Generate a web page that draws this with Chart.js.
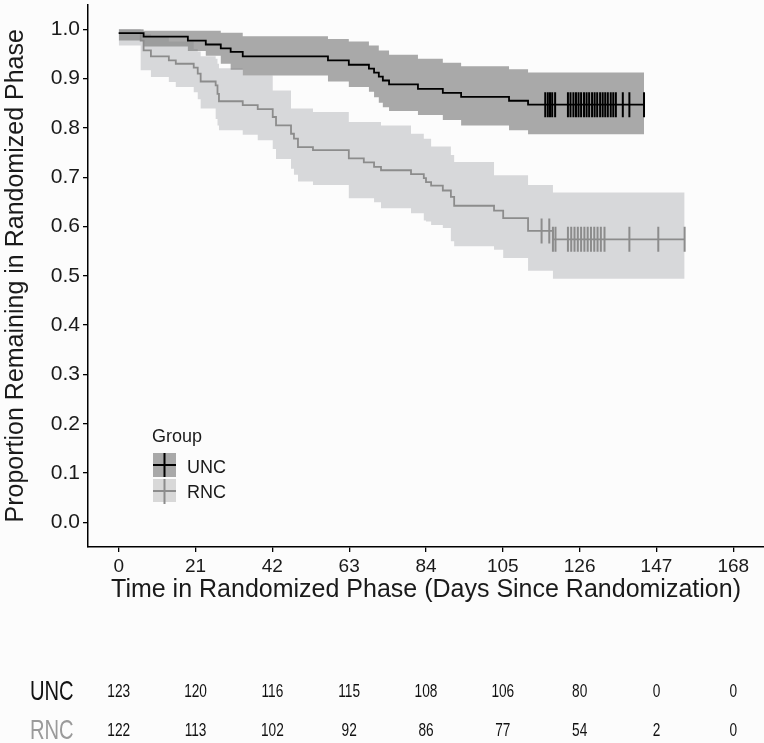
<!DOCTYPE html>
<html>
<head>
<meta charset="utf-8">
<script src="https://cdn.jsdelivr.net/npm/chart.js@4.4.1/dist/chart.umd.min.js"></script>
<style>
  html, body { margin: 0; padding: 0; background: #fcfcfc; }
  #wrap { width: 764px; height: 743px; overflow: hidden; }
</style>
</head>
<body>
<div id="wrap"><canvas id="km" width="764" height="743"></canvas></div>
<script>
// axis ticks
const xTicks = [0, 21, 42, 63, 84, 105, 126, 147, 168];
const yTicks = [0, 0.1, 0.2, 0.3, 0.4, 0.5, 0.6, 0.7, 0.8, 0.9, 1.0];

// UNC group: step times (days), survival, 95% band
const uncTime  = [0, 6.8, 18.9, 23.8, 27.9, 30.6, 33.9, 57.2, 62.9, 68.4, 69.8, 71.1, 72.2, 73.9, 81.8, 88.6, 93.6, 106.7, 111.9, 143.6];
const uncSurv  = [0.992, 0.985, 0.977, 0.969, 0.961, 0.954, 0.945, 0.937, 0.928, 0.920, 0.912, 0.904, 0.896, 0.888, 0.879, 0.871, 0.863, 0.855, 0.847, 0.847];
const uncUpper = [1.0, 0.997, 0.997, 0.997, 0.993, 0.993, 0.986, 0.980, 0.975, 0.967, 0.967, 0.957, 0.957, 0.948, 0.940, 0.932, 0.925, 0.919, 0.912, 0.912];
const uncLower = [0.977, 0.965, 0.956, 0.946, 0.930, 0.918, 0.906, 0.894, 0.883, 0.873, 0.862, 0.851, 0.842, 0.834, 0.826, 0.816, 0.805, 0.795, 0.787, 0.787];
const uncCensor = [116.6, 117.3, 117.9, 118.5, 119.3, 122.8, 123.5, 124.3, 125.0, 125.7, 126.4, 127.2, 127.9, 128.6,
                   129.4, 130.1, 130.8, 131.6, 132.3, 133.0, 133.7, 134.5, 135.2, 135.9, 137.8, 139.6, 143.6];

// RNC group
const rncTime  = [0, 6.0, 6.8, 8.8, 13.7, 15.6, 20.5, 21.6, 22.4, 26.5, 27.0, 27.4, 33.9, 38.0, 42.1, 43.0, 47.1, 47.9,
                  49.0, 53.1, 62.9, 67.0, 69.8, 71.7, 79.9, 83.4, 84.0, 85.4, 88.6, 90.8, 91.7, 102.6, 105.1, 111.9, 118.7, 154.7];
const rncSurv  = [0.992, 0.977, 0.957, 0.945, 0.937, 0.930, 0.922, 0.910, 0.894, 0.886, 0.869, 0.854, 0.846, 0.838, 0.822, 0.805, 0.788, 0.778,
                  0.761, 0.755, 0.738, 0.730, 0.721, 0.714, 0.706, 0.698, 0.690, 0.683, 0.673, 0.660, 0.642, 0.632, 0.617, 0.591, 0.574, 0.574];
const rncUpper = [1.0, 0.998, 0.990, 0.985, 0.975, 0.975, 0.960, 0.955, 0.945, 0.940, 0.930, 0.921, 0.906, 0.906, 0.876, 0.876, 0.839, 0.839,
                  0.839, 0.832, 0.812, 0.812, 0.812, 0.805, 0.788, 0.778, 0.778, 0.762, 0.762, 0.745, 0.731, 0.704, 0.704, 0.684, 0.669, 0.669];
const rncLower = [0.967, 0.917, 0.917, 0.903, 0.893, 0.883, 0.872, 0.858, 0.839, 0.818, 0.805, 0.795, 0.786, 0.775, 0.757, 0.737, 0.717, 0.705,
                  0.691, 0.684, 0.657, 0.657, 0.649, 0.637, 0.627, 0.612, 0.610, 0.603, 0.597, 0.570, 0.560, 0.553, 0.536, 0.510, 0.494, 0.494];
const rncCensor = [115.6, 117.7, 118.7, 119.4, 122.8, 123.7, 124.6, 125.5, 126.4, 127.3, 128.2, 129.1, 130.0, 130.9, 131.8, 132.8,
                   139.6, 147.5, 154.7];

// number at risk table
const groups  = ['UNC', 'RNC'];
const uncRisk = [123, 120, 116, 115, 108, 106, 80, 0, 0];
const rncRisk = [122, 113, 102, 92, 86, 77, 54, 2, 0];

const FONT = "'Liberation Sans', Arial, sans-serif";
Chart.defaults.font.family = FONT;
Chart.defaults.color = '#1a1a1a';

function pts(times, vals) {
  return times.map((t, i) => ({ x: t, y: vals[i] }));
}
function stepAt(times, vals, t) {
  let v = vals[0];
  for (let i = 0; i < times.length; i++) if (times[i] <= t) v = vals[i];
  return v;
}
function censorPts(times, vals, cens) {
  return cens.map(t => ({ x: t, y: stepAt(times, vals, t) }));
}

const lineBase = { pointRadius: 0, stepped: true, borderJoinStyle: 'miter', borderCapStyle: 'butt' };
const markBase = { showLine: false, pointStyle: 'line', rotation: 90, pointRadius: 12.5, pointHoverRadius: 12.5 };

const overlay = {
  id: 'overlay',
  afterDraw(chart) {
    const ctx = chart.ctx;
    const xs = chart.scales.x;
    ctx.save();
    // legend
    ctx.font = '18px ' + FONT;
    ctx.fillStyle = '#1a1a1a';
    ctx.textBaseline = 'alphabetic';
    ctx.fillText('Group', 152, 442);
    ctx.fillStyle = '#a9a9a9';
    ctx.fillRect(153, 453, 23, 24);
    ctx.fillStyle = '#d8d8d8';
    ctx.fillRect(153, 479, 23, 23);
    ctx.lineWidth = 2;
    ctx.strokeStyle = '#000';
    ctx.beginPath();
    ctx.moveTo(153, 465); ctx.lineTo(176, 465);
    ctx.moveTo(164.5, 453); ctx.lineTo(164.5, 477);
    ctx.stroke();
    ctx.strokeStyle = '#8c8c8c';
    ctx.beginPath();
    ctx.moveTo(153, 491); ctx.lineTo(176, 491);
    ctx.moveTo(164.5, 479); ctx.lineTo(164.5, 504);
    ctx.stroke();
    ctx.fillStyle = '#1a1a1a';
    ctx.fillText(groups[0], 187, 472.5);
    ctx.fillText(groups[1], 187, 497.5);

    // risk table (condensed text)
    const rows = [{ y: 692, risk: uncRisk, color: '#111' }, { y: 731, risk: rncRisk, color: '#9a9a9a' }];
    const sx = 0.72;
    rows.forEach((row, r) => {
      ctx.save();
      ctx.textBaseline = 'middle';
      ctx.scale(sx, 1);
      ctx.font = '28px ' + FONT;
      ctx.fillStyle = row.color;
      ctx.textAlign = 'left';
      ctx.fillText(groups[r], 30 / sx, row.y);
      ctx.font = '19px ' + FONT;
      ctx.fillStyle = '#111';
      ctx.textAlign = 'center';
      row.risk.forEach((n, i) => {
        ctx.fillText(String(n), xs.getPixelForValue(xTicks[i]) / sx, row.y);
      });
      ctx.restore();
    });
    ctx.restore();
  }
};

new Chart(document.getElementById('km'), {
  type: 'line',
  data: {
    datasets: [
      Object.assign({ data: censorPts(uncTime, uncSurv, uncCensor), pointBorderColor: '#000', pointBorderWidth: 2, order: 1 }, markBase),
      Object.assign({ data: censorPts(rncTime, rncSurv, rncCensor), pointBorderColor: '#8c8c8c', pointBorderWidth: 2, order: 2 }, markBase),
      Object.assign({ data: pts(uncTime, uncSurv), borderColor: '#000', borderWidth: 1.8, fill: false, order: 3 }, lineBase),
      Object.assign({ data: pts(rncTime, rncSurv), borderColor: '#8c8c8c', borderWidth: 1.8, fill: false, order: 4 }, lineBase),
      Object.assign({ data: pts(uncTime, uncUpper), borderWidth: 0, borderColor: 'rgba(0,0,0,0)', fill: false, order: 5 }, lineBase),
      Object.assign({ data: pts(uncTime, uncLower), borderWidth: 0, borderColor: 'rgba(0,0,0,0)', fill: { target: 4 },
                      backgroundColor: 'rgba(126,126,126,0.66)', order: 5 }, lineBase),
      Object.assign({ data: pts(rncTime, rncUpper), borderWidth: 0, borderColor: 'rgba(0,0,0,0)', fill: false, order: 7 }, lineBase),
      Object.assign({ data: pts(rncTime, rncLower), borderWidth: 0, borderColor: 'rgba(0,0,0,0)', fill: { target: 6 },
                      backgroundColor: 'rgb(215,216,218)', order: 7 }, lineBase)
    ]
  },
  options: {
    responsive: false,
    maintainAspectRatio: false,
    animation: false,
    events: [],
    layout: { autoPadding: false, padding: { top: 2, right: 0, bottom: 136, left: 0 } },
    plugins: {
      legend: { display: false },
      tooltip: { enabled: false },
      filler: { propagate: false }
    },
    scales: {
      x: {
        type: 'linear',
        min: -8.4,
        max: 176.4,
        afterBuildTicks: axis => { axis.ticks = xTicks.map(v => ({ value: v })); },
        afterFit: axis => { axis.height = 60; },
        ticks: { font: { size: 19 }, color: '#1a1a1a', padding: 3, maxRotation: 0 },
        grid: { drawOnChartArea: false, drawTicks: true, tickLength: 5, color: '#000', lineWidth: 1.3 },
        border: { display: true, color: '#000', width: 1.5 },
        title: { display: true, text: 'Time in Randomized Phase (Days Since Randomization)',
                 font: { size: 25 }, color: '#1a1a1a', padding: { top: 0, bottom: 2 } }
      },
      y: {
        type: 'linear',
        min: -0.05,
        max: 1.05,
        afterBuildTicks: axis => { axis.ticks = yTicks.map(v => ({ value: v })); },
        afterFit: axis => { axis.width = 88; },
        // small lineHeight keeps the top label from pushing the plot area down
        ticks: { font: { size: 21, lineHeight: 0.15 }, color: '#1a1a1a', padding: 3, callback: v => v.toFixed(1) },
        grid: { drawOnChartArea: false, drawTicks: true, tickLength: 5, color: '#000', lineWidth: 1.3 },
        border: { display: true, color: '#000', width: 1.5 },
        title: { display: true, text: 'Proportion Remaining in Randomized Phase',
                 font: { size: 25 }, color: '#1a1a1a', padding: { top: 1, bottom: 0 } }
      }
    }
  },
  plugins: [overlay]
});
</script>
</body>
</html>
